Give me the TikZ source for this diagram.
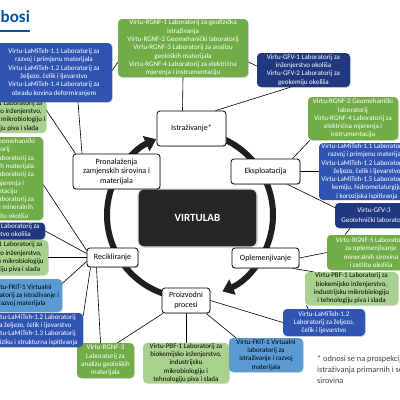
\documentclass[tikz,border=0pt]{standalone}
\usepackage{fontspec}
\setmainfont{Carlito}
\usetikzlibrary{positioning,arrows.meta,shadows,backgrounds}

\definecolor{lamblue}{RGB}{47,84,178}
\definecolor{gfvblue}{RGB}{32,56,128}
\definecolor{rgnfgreen}{RGB}{112,173,71}
\definecolor{pbfgreen}{RGB}{169,209,142}
\definecolor{fkitblue}{RGB}{91,155,213}
\definecolor{titleblue}{RGB}{0,84,166}
\definecolor{hubgray}{RGB}{38,38,38}

\newcommand{\labfont}{\fontsize{7}{8.3}\selectfont}
\newcommand{\procfont}{\fontsize{8}{9.5}\selectfont}

\begin{document}
\begin{tikzpicture}[x=1pt,y=-1pt,on grid,
  labbox/.style={rounded corners=4pt,inner sep=0.5pt,align=center,font=\labfont,
    drop shadow={shadow xshift=0.8pt,shadow yshift=-0.8pt,opacity=0.3}},
  lam/.style={labbox,fill=lamblue,text=white},
  gfv/.style={labbox,fill=gfvblue,text=white},
  rgnf/.style={labbox,fill=rgnfgreen,text=white},
  pbf/.style={labbox,fill=pbfgreen,text=black},
  fkit/.style={labbox,fill=fkitblue,text=black},
  proc/.style={draw=black,line width=0.8pt,fill=white,rounded corners=3pt,
    align=center,font=\procfont,inner sep=1pt,
    drop shadow={shadow xshift=0.8pt,shadow yshift=-0.8pt,opacity=0.3}},
  link/.style={draw=black,line width=0.6pt},
  ring/.style={line width=6pt,draw=black!88}]
  \useasboundingbox (0,0) rectangle (400,400);
  \clip (0,0) rectangle (400,400);

  % centre and processes
  \node[fill=hubgray,draw=black!12,line width=1.2pt,rounded corners=6pt,
    minimum width=119pt,minimum height=58pt,text=white,
    font=\fontsize{11}{13}\selectfont\bfseries,
    drop shadow={shadow xshift=0.8pt,shadow yshift=-0.8pt,opacity=0.3}] (virt) at (197.5,218) {VIRTULAB};
  \coordinate (hub) at (190,215);
  \node[proc,minimum width=69pt,minimum height=35pt] (istr) [above left=89.5pt and 6pt of virt] {Istraživanje*};
  \node[proc,minimum width=69pt,minimum height=25pt] (eksp) [above right=46.5pt and 68pt of virt] {Eksploatacija};
  \node[proc,minimum width=87pt,minimum height=35pt] (pron) [above left=46.5pt and 81pt of virt] {Pronalaženja\\zamjenskih sirovina i\\materijala};
  \node[proc,minimum width=51pt,minimum height=19pt] (recik) [below left=39.5pt and 85pt of virt] {Recikliranje};
  \node[proc,minimum width=67pt,minimum height=20pt] (oplem) [below right=40pt and 68pt of virt] {Oplemenjivanje};
  \node[proc,minimum width=48pt,minimum height=25pt] (proiz) [below left=82.5pt and 11.5pt of virt] {Proizvodni\\procesi};

  % labs round Istrazivanje
  \node[rgnf,minimum width=130pt,minimum height=58pt] (rgnfT) [above left=80.5pt and 8.5pt of istr]
    {Virtu-RGNF-1 Laboratorij za geofizička\\istraživanja\\Virtu-RGNF-2 Geomehanički laboratorij\\Virtu-RGNF-3 Laboratorij za analizu\\geoloških materijala\\Virtu-RGNF-4 Laboratorij za električna\\mjerenja i instrumentaciju};
  \node[gfv,minimum width=93pt,minimum height=34pt] (gfvT) [above right=58.5pt and 112pt of istr]
    {Virtu-GFV-1 Laboratorij za\\inženjerstvo okoliša\\Virtu-GFV-2 Laboratorij za\\geokemiju okoliša};

  % labs round Eksploatacija
  \node[rgnf,minimum width=90pt,minimum height=43pt] (rgnfR) [above right=53pt and 87.5pt of eksp]
    {Virtu-RGNF-2 Geomehanički\\laboratorij\\Virtu-RGNF-4 Laboratorij za\\električna mjerenja i\\instrumentaciju};
  \node[lam,minimum width=96pt,minimum height=56pt] (lamR) [right=101.5pt of eksp]
    {Virtu-LaMiTeh-1.1 Laboratorij za\\razvoj i primjenu materijala\\Virtu-LaMiTeh-1.2 Laboratorij za\\željezo, čelik i ljevarstvo\\Virtu-LaMiTeh-1.5 Laboratorij za\\kemiju, hidrometalurgiju\\i korozijska ispitivanja};
  \node[gfv,minimum width=78pt,minimum height=25pt] (gfv3) [below right=44pt and 108.5pt of eksp]
    {Virtu-GFV-3\\[1.5pt]Geotehnički laboratorij};

  % labs round Oplemenjivanje
  \node[rgnf,minimum width=88pt,minimum height=35pt] (rgnf5) [above right=5.5pt and 105.5pt of oplem]
    {Virtu-RGNF-5 Laboratorij\\za oplemenjivanje\\mineralnih sirovina\\i zaštitu okoliša};
  \node[pbf,minimum width=93pt,minimum height=33pt] (pbfR) [below right=30.5pt and 86pt of oplem]
    {Virtu-PBF-1 Laboratorij za\\biokemijsko inženjerstvo,\\industrijsku mikrobiologiju\\i tehnologiju piva i slada};

  % labs round Proizvodni procesi
  \node[lam,minimum width=82pt,minimum height=27pt] (lam12R) [below right=22pt and 138pt of proiz]
    {Virtu-LaMiTeh-1.2\\Laboratorij za željezo,\\čelik i ljevarstvo};
  \node[fkit,minimum width=74pt,minimum height=34pt] (fkitB) [below right=54.5pt and 80pt of proiz]
    {Virtu-FKIT-1 Virtualni\\laboratorij za\\istraživanje i razvoj\\materijala};
  \node[pbf,minimum width=86pt,minimum height=40pt] (pbfB) [below=62.5pt of proiz]
    {Virtu-PBF-1 Laboratorij za\\biokemijsko inženjerstvo,\\industrijsku\\mikrobiologiju i\\tehnologiju piva i slada};

  % labs round Recikliranje
  \node[rgnf,minimum width=57pt,minimum height=35pt] (rgnf3) [below left=103pt and 7pt of recik]
    {Virtu-RGNF-3\\Laboratorij za\\analizu geoloških\\materijala};
  \node[lam,minimum width=98pt,minimum height=34pt] (lamL) [below left=72.5pt and 78.5pt of recik]
    {Virtu-LaMiTeh-1.2 Laboratorij\\za željezo, čelik i ljevarstvo\\Virtu-LaMiTeh-1.3 Laboratorij\\za fiziku i strukturna ispitivanja};
  \node[fkit,minimum width=80pt,minimum height=33pt] (fkitL) [below left=38pt and 90.5pt of recik]
    {Virtu-FKIT-1 Virtualni\\laboratorij za istraživanje i\\razvoj materijala};
  \node[pbf,minimum width=84pt,minimum height=35pt] (pbfL) [left=106.5pt of recik]
    {Virtu-PBF-1 Laboratorij za\\biokemijsko inženjerstvo,\\industrijsku mikrobiologiju\\i tehnologiju piva i slada};
  \node[gfv,minimum width=84pt,minimum height=17pt] (gfvL) [above left=26.5pt and 109.5pt of recik]
    {Virtu-GFV-1 Laboratorij za\\inženjerstvo okoliša};
  \node[rgnf,minimum width=96pt,minimum height=83pt] (rgnfL) [above left=79pt and 117.5pt of recik]
    {Virtu-RGNF-2 Geomehanički\\laboratorij\\Virtu-RGNF-3 Laboratorij za\\analizu geoloških materijala\\Virtu-RGNF-4 Laboratorij za\\električna mjerenja i\\instrumentaciju\\Virtu-RGNF-5 Laboratorij za\\oplemenjivanje mineralnih\\sirovina i zaštitu okoliša};

  % labs round Pronalazenja
  \node[pbf,minimum width=80pt,minimum height=33pt] (pbfTL) [above left=55.5pt and 110.5pt of pron]
    {Virtu-PBF-1 Laboratorij za\\biokemijsko inženjerstvo,\\industrijsku mikrobiologiju i\\tehnologiju piva i slada};
  \node[lam,minimum width=116pt,minimum height=59pt] (lamTL) [above left=99pt and 62.5pt of pron]
    {Virtu-LaMiTeh-1.1 Laboratorij za\\razvoj i primjenu materijala\\Virtu-LaMiTeh-1.2 Laboratorij za\\željezo, čelik i ljevarstvo\\Virtu-LaMiTeh-1.4 Laboratorij za\\obradu kovina deformiranjem};

  % title and note
  \node[anchor=base west,inner sep=0pt,font=\fontsize{17}{20}\selectfont\bfseries,text=titleblue] (ttl) at (0.5,22) {bosi};
  \draw[titleblue,line width=1.5pt] (0,31) -- (30,31);
  \node[anchor=north west,inner sep=0pt,align=left,font=\fontsize{8.3}{11}\selectfont,text=black!75] (note) at (317,355)
    {* odnosi se na prospekciju i\\istraživanja primarnih i sekundarnih\\sirovina};

  \begin{scope}[on background layer]
    \clip (0,0) rectangle (400,400);
    \path[link]
    ([xshift=24pt]lamTL.south) edge ([xshift=-34.5pt]pron.north)
    ([yshift=6pt]pbfTL.east) edge ([xshift=-41pt]pron.north)
    ([yshift=2pt]lamTL.east) edge ([yshift=-14pt]rgnfT.west)
    (rgnfT.south) edge ([xshift=-9pt]istr.north)
    ([xshift=-13pt]gfvT.south) edge ([xshift=24pt]istr.north)
    ([yshift=-14pt]rgnfT.east) edge ([yshift=4pt]gfvT.west)
    ([xshift=27pt]eksp.north) edge ([xshift=-43pt]rgnfR.south)
    (eksp.east) edge (lamR.west)
    ([xshift=22pt]eksp.south) edge ([yshift=8pt]gfv3.west)
    ([xshift=-24pt]gfv3.south) edge ([xshift=-26pt]rgnf5.north)
    (oplem.east) edge (rgnf5.west)
    ([xshift=27pt]oplem.south) edge ([xshift=-38pt]pbfR.north)
    ([xshift=-45pt]pbfR.south) edge ([xshift=-16pt]lam12R.north)
    (proiz.east) edge (lam12R.west)
    ([xshift=20pt]proiz.south) edge ([xshift=-30pt]fkitB.north)
    (proiz.south) edge (pbfB.north)
    ([xshift=-23pt]proiz.south) edge ([xshift=12pt]rgnf3.north)
    ([yshift=-6pt]rgnfL.east) edge ([yshift=7pt]recik.west)
    (gfvL.east) edge ([yshift=4pt]recik.west)
    (pbfL.east) edge (recik.west)
    ([yshift=12pt]fkitL.east) edge ([yshift=-4pt]recik.west)
    ([yshift=-3pt]lamL.north east) edge ([xshift=-22pt]recik.south)
    ([xshift=-16pt]recik.south) edge ([xshift=-5pt]rgnf3.north)
    ;
    % cycle arrows
    \draw[ring,-{Triangle[width=16pt,length=11pt]}] ([shift={(160:83pt)}]hub) arc[start angle=160,end angle=114,radius=83pt];
    \draw[ring,-{Triangle[width=16pt,length=11pt]}] ([shift={(80:83pt)}]hub) arc[start angle=80,end angle=-67,radius=83pt];
    \draw[ring] ([shift={(-105:83pt)}]hub) arc[start angle=-105,end angle=-200,radius=83pt];
  \end{scope}
\end{tikzpicture}
\end{document}
